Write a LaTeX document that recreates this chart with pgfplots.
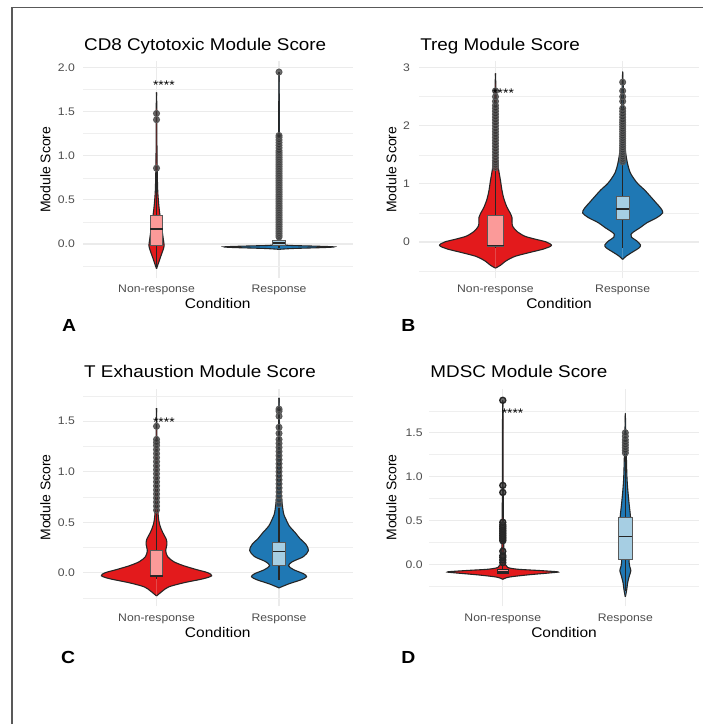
\documentclass[border=0pt]{standalone}
\usepackage{fontspec}
\setmainfont{Liberation Sans}[FakeStretch=1.11]
\newfontfamily\vfont{Liberation Sans}
\usepackage{pgfplots}
\pgfplotsset{compat=1.18}
\usepackage{pgfplotstable}
\usepgfplotslibrary{statistics}

\definecolor{vred}{HTML}{E31A1C}
\definecolor{vblue}{HTML}{1F78B4}
\definecolor{bpink}{HTML}{FB9A99}
\definecolor{bblue}{HTML}{A6CEE3}
\definecolor{ptc}{HTML}{333333}
\definecolor{gridc}{HTML}{EBEBEB}
\definecolor{tickc}{HTML}{4D4D4D}
\definecolor{vline}{HTML}{262626}

% violin half-width profiles (y = score, w = half width in category units)
\pgfplotstableread{
y w
-0.28 0
-0.22 0.015
-0.15 0.032
-0.08 0.05
-0.02 0.062
0.05 0.056
0.15 0.046
0.25 0.036
0.35 0.026
0.45 0.018
0.6 0.01
0.8 0.006
1.0 0.004
1.3 0.003
1.5 0.003
1.72 0
}\vAn
\pgfplotstableread{
y w
-0.06 0
-0.05 0.12
-0.04 0.36
-0.032 0.45
-0.024 0.3
-0.015 0.08
0.0 0.02
0.05 0.01
0.2 0.006
0.6 0.005
1.0 0.004
1.4 0.003
1.95 0
}\vAr
\pgfplotstableread{
y w
-0.45 0
-0.40 0.04
-0.33 0.08
-0.25 0.15
-0.18 0.27
-0.12 0.38
-0.06 0.44
0.00 0.40
0.05 0.31
0.10 0.23
0.18 0.17
0.27 0.135
0.35 0.13
0.42 0.13
0.50 0.115
0.60 0.09
0.75 0.065
0.90 0.05
1.05 0.04
1.20 0.028
1.35 0.018
1.6 0.01
2.0 0.007
2.5 0.005
2.9 0
}\vBn
\pgfplotstableread{
y w
-0.30 0
-0.24 0.03
-0.17 0.08
-0.10 0.13
-0.05 0.14
0.02 0.11
0.08 0.07
0.13 0.065
0.18 0.09
0.25 0.14
0.33 0.19
0.42 0.27
0.50 0.315
0.58 0.30
0.68 0.26
0.78 0.22
0.90 0.17
1.00 0.12
1.10 0.085
1.20 0.058
1.35 0.038
1.6 0.02
2.0 0.01
2.5 0.007
2.93 0
}\vBr
\pgfplotstableread{
y w
-0.23 0
-0.18 0.05
-0.14 0.10
-0.10 0.22
-0.06 0.38
-0.03 0.45
0.00 0.42
0.03 0.33
0.07 0.22
0.11 0.14
0.16 0.09
0.22 0.075
0.28 0.085
0.33 0.08
0.40 0.05
0.48 0.025
0.6 0.012
0.9 0.006
1.3 0.004
1.63 0
}\vCn
\pgfplotstableread{
y w
-0.15 0
-0.11 0.08
-0.07 0.18
-0.04 0.225
-0.01 0.2
0.03 0.12
0.07 0.077
0.11 0.11
0.16 0.2
0.22 0.24
0.28 0.22
0.34 0.17
0.40 0.13
0.46 0.085
0.52 0.06
0.60 0.035
0.8 0.018
1.2 0.008
1.73 0
}\vCr
\pgfplotstableread{
y w
-0.17 0
-0.145 0.05
-0.12 0.2
-0.095 0.4
-0.085 0.45
-0.07 0.3
-0.055 0.12
-0.035 0.04
0.0 0.02
0.1 0.01
0.3 0.007
0.5 0.005
1.0 0.003
1.5 0.003
1.87 0
}\vDn
\pgfplotstableread{
y w
-0.37 0
-0.30 0.01
-0.20 0.02
-0.12 0.035
-0.07 0.045
-0.02 0.035
0.03 0.03
0.1 0.035
0.2 0.045
0.3 0.05
0.4 0.05
0.5 0.045
0.6 0.038
0.7 0.03
0.85 0.02
1.0 0.013
1.3 0.007
1.72 0
}\vDr

% each violin = two filled halves, mirrored about the category position
\newcommand{\violin}[3]{%
 \addplot[fill=#3, draw=vline, line width=1.1pt, smooth, tension=0.5] table[x expr=#2+\thisrow{w}, y=y]{#1};
 \addplot[fill=#3, draw=vline, line width=1.1pt, smooth, tension=0.5] table[x expr=#2-\thisrow{w}, y=y]{#1};
}

\pgfplotsset{
 panel/.style={
  scale only axis, anchor=south west,
  xmin=0.4, xmax=2.6, xtick={1,2}, xticklabels={Non-response,Response},
  axis line style={draw=none}, tick style={draw=none}, major tick length=0pt, minor tick length=0pt,
  xmajorgrids, ymajorgrids, yminorgrids,
  major grid style={draw=gridc, line width=1.1pt},
  minor grid style={draw=gridc!80, line width=0.6pt},
  clip marker paths=true,
  /pgf/number format/assume math mode=true,
  ticklabel style={font=\fontsize{11}{13}\selectfont, text=tickc},
  yticklabel style={anchor=east, inner sep=0pt, xshift=-8pt},
  xticklabel style={anchor=base, inner sep=0pt, yshift=-15pt},
  xlabel={Condition}, ylabel={Module Score},
  xlabel style={at={(axis description cs:0.5,0)}, anchor=base, inner sep=0pt, yshift=-31pt, font=\fontsize{14}{16}\selectfont},
  ylabel style={at={([xshift=-37.8pt]axis description cs:0,0.5)}, anchor=center, inner sep=0pt, font=\vfont\fontsize{14}{16}\selectfont},
  title style={at={(axis description cs:0,1)}, anchor=base west, inner sep=0pt, yshift=5pt, xshift=1pt, font=\fontsize{17}{20}\selectfont},
 },
 bxs/.style={draw=black!65, line width=1pt, mark=*, mark size=3pt,
  mark options={draw=none, fill=ptc, fill opacity=0.7, solid},
  boxplot/draw direction=y,
  boxplot/every median/.style={draw=black!85, line width=1.6pt},
  boxplot/every whisker/.style={draw=black!85, line width=1.1pt},
  boxplot/whisker extend=0, boxplot/box extend=0.1},
}
\tikzset{stars/.style={font=\fontsize{12.5}{14}\selectfont, anchor=base, yshift=-7.3pt, inner sep=0pt}}

\begin{document}
\begin{tikzpicture}
\fill[white] (0pt,0pt) rectangle (704pt,725pt);
\draw[color=black!65, line width=1.5pt] (12pt,0pt) -- (12pt,717.5pt) -- (704pt,717.5pt);

\node[anchor=base west, inner sep=0pt, font=\bfseries\fontsize{17.5}{20}\selectfont] at (62pt,393pt) {A};
\node[anchor=base west, inner sep=0pt, font=\bfseries\fontsize{17.5}{20}\selectfont] at (401.7pt,393pt) {B};
\node[anchor=base west, inner sep=0pt, font=\bfseries\fontsize{17.5}{20}\selectfont] at (61pt,60.5pt) {C};
\node[anchor=base west, inner sep=0pt, font=\bfseries\fontsize{17.5}{20}\selectfont] at (401.7pt,60.5pt) {D};

% ---------- A ----------
\begin{axis}[panel, at={(83.1pt,446.7pt)}, width=269.8pt, height=216.8pt,
  ymin=-0.385, ymax=2.07, ytick={0,0.5,1,1.5,2}, yticklabels={0.0,0.5,1.0,1.5,2.0},
  minor ytick={-0.25,0.25,0.75,1.25,1.75}, title={CD8 Cytotoxic Module Score}]
 \violin{\vAn}{1}{vred}
 \violin{\vAr}{2}{vblue}
 \addplot[bxs, fill=bpink, boxplot prepared={lower whisker=-0.27, lower quartile=-0.02, median=0.17, upper quartile=0.32, upper whisker=0.83, draw position=1}]
  table[row sep=\\, y index=0]{data\\0.86\\1.41\\1.48\\};
 \addplot[bxs, fill=bblue, boxplot prepared={lower whisker=-0.05, lower quartile=-0.015, median=0.01, upper quartile=0.04, upper whisker=0.08, draw position=2}]
  table[row sep=\\, y index=0]{data\\0.08\\0.1\\0.12\\0.14\\0.16\\0.18\\0.2\\0.22\\0.24\\0.26\\0.28\\0.3\\0.32\\0.34\\0.36\\0.38\\0.4\\0.42\\0.44\\0.46\\0.48\\0.5\\0.52\\0.54\\0.56\\0.58\\0.6\\0.62\\0.64\\0.66\\0.68\\0.7\\0.72\\0.74\\0.76\\0.78\\0.8\\0.82\\0.84\\0.86\\0.88\\0.9\\0.92\\0.94\\0.96\\0.98\\1.0\\1.02\\1.04\\1.06\\1.09\\1.12\\1.15\\1.18\\1.21\\1.23\\1.95\\};
 \node[stars] at (axis cs:1.06,1.83) {****};
\end{axis}

% ---------- B ----------
\begin{axis}[panel, at={(419.6pt,446.7pt)}, width=280.1pt, height=216.8pt,
  ymin=-0.62, ymax=3.107, ytick={0,1,2,3}, yticklabels={0,1,2,3},
  minor ytick={-0.5,0.5,1.5,2.5}, title={Treg Module Score},
  yticklabel style={xshift=-1pt},
  ylabel style={at={([xshift=-27.9pt]axis description cs:0,0.5)}}]
 \violin{\vBn}{1}{vred}
 \violin{\vBr}{2}{vblue}
 \addplot[bxs, fill=bpink, boxplot/box extend=0.13, boxplot prepared={lower whisker=-0.1, lower quartile=-0.075, median=-0.06, upper quartile=0.46, upper whisker=1.25, draw position=1}]
  table[row sep=\\, y index=0]{data\\1.28\\1.32\\1.36\\1.4\\1.45\\1.5\\1.55\\1.6\\1.65\\1.7\\1.75\\1.8\\1.85\\1.9\\1.95\\2.0\\2.05\\2.1\\2.15\\2.2\\2.25\\2.3\\2.35\\2.42\\2.5\\2.6\\};
 \addplot[bxs, fill=bblue, boxplot prepared={lower whisker=-0.1, lower quartile=0.38, median=0.57, upper quartile=0.785, upper whisker=1.35, draw position=2}]
  table[row sep=\\, y index=0]{data\\1.38\\1.42\\1.46\\1.5\\1.54\\1.58\\1.62\\1.66\\1.7\\1.74\\1.78\\1.82\\1.86\\1.9\\1.94\\1.98\\2.02\\2.06\\2.1\\2.15\\2.2\\2.25\\2.3\\2.42\\2.5\\2.6\\2.75\\};
 \node[stars] at (axis cs:1.06,2.62) {****};
\end{axis}

% ---------- C ----------
\begin{axis}[panel, at={(83.1pt,118.3pt)}, width=269.8pt, height=217.4pt,
  ymin=-0.33, ymax=1.82, ytick={0,0.5,1,1.5}, yticklabels={0.0,0.5,1.0,1.5},
  minor ytick={-0.25,0.25,0.75,1.25,1.75}, title={T Exhaustion Module Score}]
 \violin{\vCn}{1}{vred}
 \violin{\vCr}{2}{vblue}
 \addplot[bxs, fill=bpink, boxplot prepared={lower whisker=-0.06, lower quartile=-0.035, median=-0.03, upper quartile=0.22, upper whisker=0.6, draw position=1}]
  table[row sep=\\, y index=0]{data\\0.62\\0.66\\0.7\\0.74\\0.78\\0.82\\0.86\\0.9\\0.94\\0.98\\1.02\\1.06\\1.1\\1.14\\1.18\\1.22\\1.26\\1.29\\1.32\\1.45\\};
 \addplot[bxs, fill=bblue, boxplot prepared={lower whisker=-0.07, lower quartile=0.073, median=0.21, upper quartile=0.30, upper whisker=0.64, draw position=2}]
  table[row sep=\\, y index=0]{data\\0.68\\0.72\\0.76\\0.8\\0.84\\0.88\\0.92\\0.96\\1.0\\1.04\\1.08\\1.12\\1.16\\1.2\\1.24\\1.28\\1.32\\1.38\\1.44\\1.55\\1.6\\1.62\\};
 \node[stars] at (axis cs:1.06,1.52) {****};
\end{axis}

% ---------- D ----------
\begin{axis}[panel, at={(429.7pt,118.3pt)}, width=269.9pt, height=217.4pt,
  ymin=-0.475, ymax=2.0, ytick={0,0.5,1,1.5}, yticklabels={0.0,0.5,1.0,1.5},
  minor ytick={-0.25,0.25,0.75,1.25,1.75}, title={MDSC Module Score},
  yticklabel style={xshift=1.5pt},
  ylabel style={at={([xshift=-38pt]axis description cs:0,0.5)}}]
 \violin{\vDn}{1}{vred}
 \violin{\vDr}{2}{vblue}
 \addplot[bxs, draw=black!85, line width=1.4pt, fill=bpink, boxplot/box extend=0.09, boxplot prepared={lower whisker=-0.11, lower quartile=-0.1, median=-0.08, upper quartile=-0.057, upper whisker=0.0, draw position=1}]
  table[row sep=\\, y index=0]{data\\0.02\\0.05\\0.08\\0.1\\0.15\\0.27\\0.29\\0.31\\0.33\\0.35\\0.37\\0.39\\0.41\\0.43\\0.45\\0.48\\0.82\\0.9\\1.87\\};
 \addplot[bxs, fill=bblue, boxplot/box extend=0.11, boxplot prepared={lower whisker=-0.3, lower quartile=0.057, median=0.32, upper quartile=0.53, upper whisker=1.25, draw position=2}]
  table[row sep=\\, y index=0]{data\\1.27\\1.3\\1.33\\1.36\\1.39\\1.42\\1.46\\1.5\\};
 \node[stars] at (axis cs:1.08,1.76) {****};
\end{axis}
\end{tikzpicture}
\end{document}
